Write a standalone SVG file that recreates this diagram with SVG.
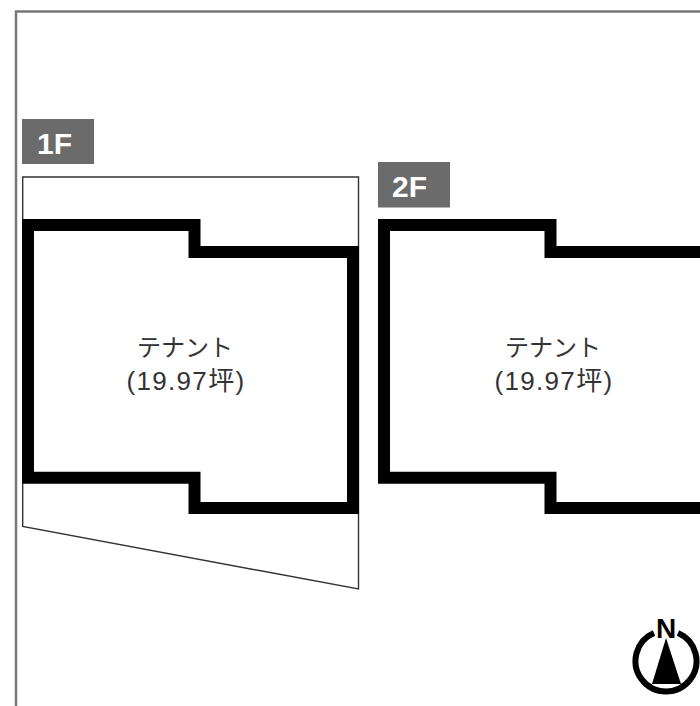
<svg xmlns="http://www.w3.org/2000/svg" width="700" height="706" viewBox="0 0 700 706">
<style>
.wall{fill:none;stroke:#000;stroke-width:12;stroke-linejoin:miter}
.site{fill:none;stroke:#333;stroke-width:1.4}
.badge{fill:#6b6b6b}
.bt{font-family:"Liberation Sans",Arial,sans-serif;font-weight:700;font-size:30px;fill:#fff}
.lb{font-family:"Liberation Sans","Noto Sans CJK JP",sans-serif;font-size:24px;fill:#333;text-anchor:middle}
.ar{font-size:26px;letter-spacing:1.3px}
</style>
<rect width="700" height="706" fill="#fff"/>
<path d="M16 706V11.5H700" fill="none" stroke="#777" stroke-width="2.5"/>
<g id="floor-1f">
<rect class="badge" x="22" y="119" width="72" height="45"/>
<text class="bt" x="37" y="153.5">1F</text>
<path class="site" d="M22.7 177H358.5V589L22.7 526.5Z"/>
<path class="wall" d="M28 225H194.5V252H353V508H194.5V477.75H28Z"/>
<text class="lb" x="185" y="356">テナント</text>
<text class="lb ar" x="186" y="390">(19.97坪)</text>
</g>
<g id="floor-2f">
<rect class="badge" x="378" y="162" width="72" height="45.5"/>
<text class="bt" x="392" y="197">2F</text>
<path class="wall" d="M712 252H550.5V225H384V477.75H550.5V508H712"/>
<text class="lb" x="553" y="356">テナント</text>
<text class="lb ar" x="554" y="390">(19.97坪)</text>
</g>
<g id="compass">
<path d="M654 633A30.5 30.5 0 1 0 678 633" fill="none" stroke="#000" stroke-width="6"/>
<path d="M666 638L681 684H652Z" fill="#000"/>
<text x="666" y="638" font-family="Liberation Sans,Arial,sans-serif" font-weight="700" font-size="28" text-anchor="middle" fill="#000">N</text>
</g>
</svg>
